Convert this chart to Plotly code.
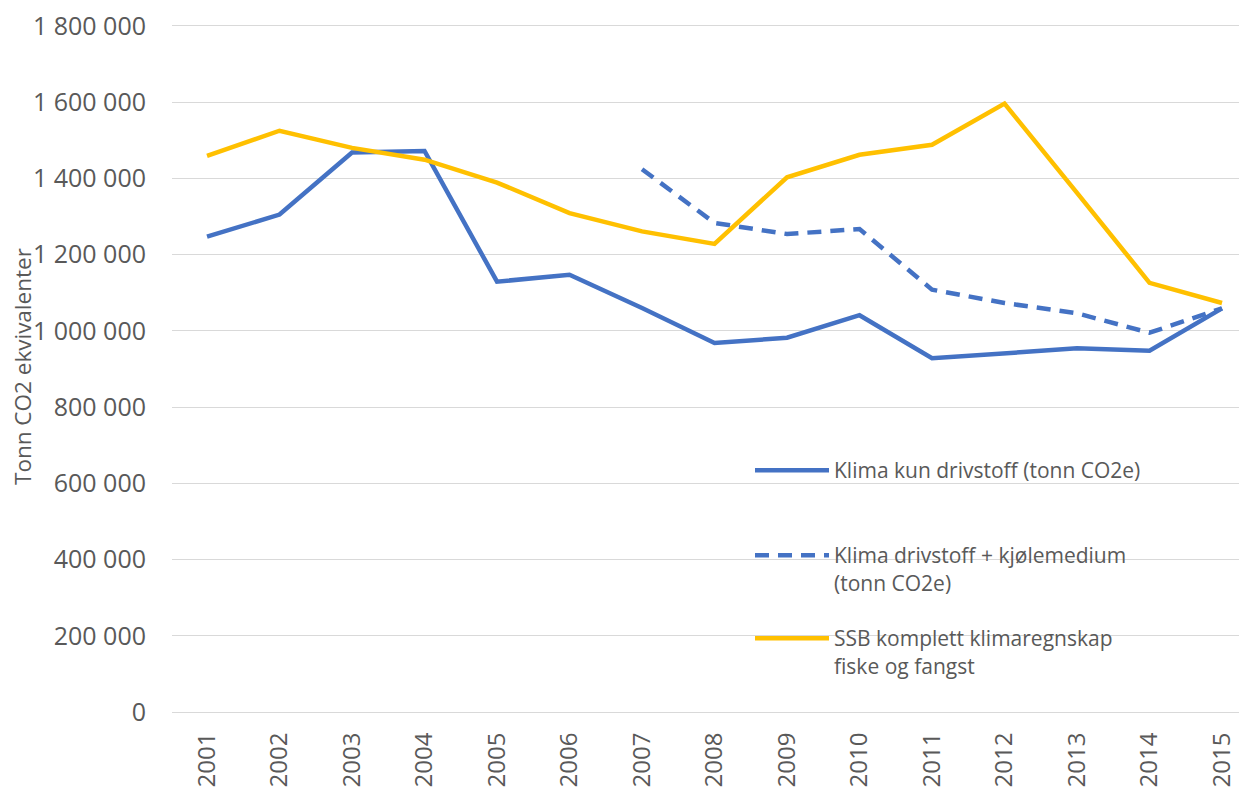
import plotly.graph_objects as go

years = ["2001", "2002", "2003", "2004", "2005", "2006", "2007", "2008",
         "2009", "2010", "2011", "2012", "2013", "2014", "2015"]

klima_kun = [1247000, 1305000, 1468000, 1472000, 1129000, 1147000, 1060000, 968000,
             982000, 1041000, 928000, 940000, 954000, 948000, 1059000]

klima_kjole = [None, None, None, None, None, None, 1424000, 1283000,
               1254000, 1267000, 1108000, 1073000, 1046000, 995000, 1059000]

ssb = [1459000, 1525000, 1480000, 1449000, 1389000, 1309000, 1261000, 1228000,
       1403000, 1462000, 1488000, 1596000, 1362000, 1126000, 1073000]

y_tickvals = [0, 200000, 400000, 600000, 800000, 1000000, 1200000, 1400000, 1600000, 1800000]
y_ticktext = ["0", "200 000", "400 000", "600 000", "800 000", "1 000 000",
              "1 200 000", "1 400 000", "1 600 000", "1 800 000"]

names = ["Klima kun drivstoff (tonn CO2e)",
         "Klima drivstoff + kjølemedium<br>(tonn CO2e)",
         "SSB komplett klimaregnskap<br>fiske og fangst"]

BLUE = "#4472C4"
YELLOW = "#FFC000"
TXT = "#595959"
GRID = "#D9D9D9"
FONT = "Open Sans"

fig = go.Figure()
fig.add_trace(go.Scatter(x=years, y=klima_kun, mode="lines", name=names[0],
                         line=dict(color=BLUE, width=4.5), legend="legend"))
fig.add_trace(go.Scatter(x=years, y=klima_kjole, mode="lines", name=names[1],
                         line=dict(color=BLUE, width=4.5, dash="14px,9px"), legend="legend2"))
fig.add_trace(go.Scatter(x=years, y=ssb, mode="lines", name=names[2],
                         line=dict(color=YELLOW, width=4.5), legend="legend3"))

W = 1247
H = 789
OFF = 8  # page body margin
YMAX = 1805000
# desired plot area in page pixels
PL, PR, PT, PB = 172, 1240, 24, 712
L = PL - OFF
R = W - (PR - OFF)
T = PT - OFF
B = H - (PB - OFF)


def px_x(px):
    return (px - PL) / (PR - PL)


def px_y(py):
    return (PB - py) / (PB - PT)


leg_common = dict(font=dict(family=FONT, size=21, color=TXT), bgcolor="rgba(0,0,0,0)",
                  itemwidth=74, xanchor="left", yanchor="top", valign="top",
                  borderwidth=0, tracegroupgap=0)

fig.update_layout(
    width=W, height=H,
    margin=dict(l=L, r=R, t=T, b=B, pad=0, autoexpand=False),
    paper_bgcolor="white", plot_bgcolor="white",
    font=dict(family=FONT, color=TXT),
    showlegend=True,
    legend=dict(x=px_x(750), y=px_y(450), **leg_common),
    legend2=dict(x=px_x(750), y=px_y(535), **leg_common),
    legend3=dict(x=px_x(750), y=px_y(618), **leg_common),
    xaxis=dict(type="category", range=[-0.483, 14.248], showgrid=False,
               showline=False, zeroline=False, automargin=False,
               tickangle=-90, tickfont=dict(family=FONT, size=24, color=TXT),
               ticks="outside", ticklen=10, tickcolor="rgba(0,0,0,0)",
               ticklabeloverflow="allow"),
    yaxis=dict(range=[0, YMAX], tickvals=y_tickvals, ticktext=y_ticktext,
               showgrid=True, gridcolor=GRID, gridwidth=1, automargin=False,
               zeroline=True, zerolinecolor=GRID, zerolinewidth=1,
               showline=False, ticklabeloverflow="allow",
               tickfont=dict(family=FONT, size=25, color=TXT),
               ticks="outside", ticklen=20, tickcolor="rgba(0,0,0,0)"),
    annotations=[dict(text="Tonn CO2 ekvivalenter", xref="paper", yref="paper",
                      x=px_x(22), y=px_y(367), xanchor="center", yanchor="middle",
                      textangle=-90, showarrow=False,
                      font=dict(family=FONT, size=22.5, color=TXT))],
)

fig.write_html("out.html")
